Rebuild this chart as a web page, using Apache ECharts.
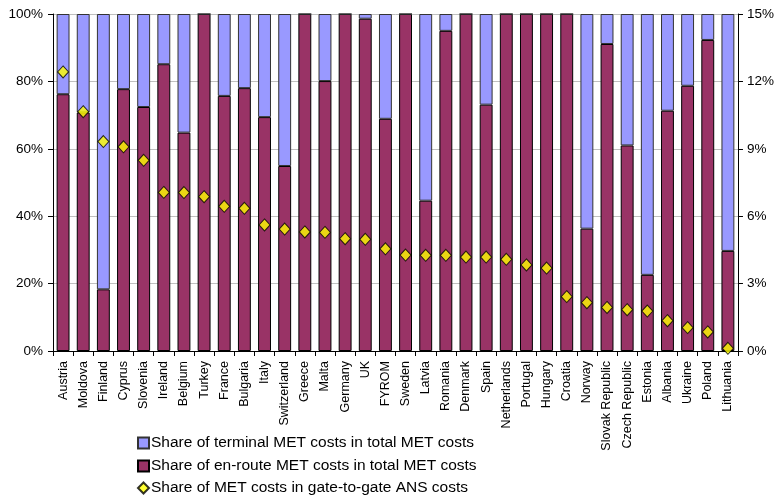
<!DOCTYPE html>
<html>
<head>
<meta charset="utf-8">
<script src="https://cdn.jsdelivr.net/npm/echarts@6/dist/echarts.min.js"></script>
<style>
  html, body { margin: 0; padding: 0; background: #ffffff; }
  #chart { width: 777px; height: 497px; }
</style>
</head>
<body>
<div id="chart"></div>
<script>
// Countries, ordered by MET share of gate-to-gate ANS costs
const countries = ['Austria', 'Moldova', 'Finland', 'Cyprus', 'Slovenia', 'Ireland', 'Belgium', 'Turkey',
  'France', 'Bulgaria', 'Italy', 'Switzerland', 'Greece', 'Malta', 'Germany', 'UK', 'FYROM', 'Sweden',
  'Latvia', 'Romania', 'Denmark', 'Spain', 'Netherlands', 'Portugal', 'Hungary', 'Croatia', 'Norway',
  'Slovak Republic', 'Czech Republic', 'Estonia', 'Albania', 'Ukraine', 'Poland', 'Lithuania'];

// Share of terminal MET costs in total MET costs (%)
const terminalShare = [23.8, 29.2, 81.7, 22.3, 27.6, 14.9, 35.2, 0, 24.3, 22.0, 30.6, 45.1, 0, 19.9, 0, 1.4,
  31.1, 0, 55.4, 5.0, 0, 26.9, 0, 0, 0, 0, 63.7, 8.9, 39.0, 77.4, 28.7, 21.3, 7.7, 70.3];

// Share of en-route MET costs in total MET costs (%)
const enrouteShare = [76.2, 70.8, 18.3, 77.7, 72.4, 85.1, 64.8, 100, 75.7, 78.0, 69.4, 54.9, 100, 80.1, 100, 98.6,
  68.9, 100, 44.6, 95.0, 100, 73.1, 100, 100, 100, 100, 36.3, 91.1, 61.0, 22.6, 71.3, 78.7, 92.3, 29.7];

// Share of MET costs in gate-to-gate ANS costs (%)
const metShare = [12.42, 10.65, 9.32, 9.09, 8.49, 7.06, 7.05, 6.87, 6.44, 6.35, 5.61, 5.43, 5.30, 5.28, 5.00, 4.97,
  4.55, 4.27, 4.26, 4.26, 4.18, 4.18, 4.08, 3.83, 3.69, 2.42, 2.15, 1.94, 1.84, 1.78, 1.35, 1.04, 0.85, 0.12];

const leftTicks = { min: 0, max: 100, interval: 20 };
const rightTicks = { min: 0, max: 15, interval: 3 };

const names = [
  'Share of terminal MET costs in total MET costs',
  'Share of en-route MET costs in total MET costs',
  'Share of MET costs in gate-to-gate ANS costs'
];

const font = 'Arial, "Liberation Sans", sans-serif';
const chart = echarts.init(document.getElementById('chart'), null, { renderer: 'canvas' });

const legendBase = {
  orient: 'vertical',
  left: 137,
  padding: 0,
  itemWidth: 11,
  itemHeight: 11,
  selectedMode: false,
  textStyle: { fontFamily: font, fontSize: 15.5, color: '#000', padding: [0, 0, 0, -3] }
};

chart.setOption({
  animation: false,
  backgroundColor: '#ffffff',
  grid: { left: 53, right: 37, top: 14, bottom: 146, containLabel: false },
  legend: [
    Object.assign({}, legendBase, { top: 435, data: [{ name: names[0], icon: 'rect' }] }),
    Object.assign({}, legendBase, { top: 458, data: [{ name: names[1], icon: 'rect' }] }),
    Object.assign({}, legendBase, { top: 480, data: [{ name: names[2], icon: 'diamond' }] })
  ],
  xAxis: {
    type: 'category',
    data: countries,
    axisLine: { lineStyle: { color: '#000', width: 1 } },
    axisTick: { show: true, length: 5, lineStyle: { color: '#000' } },
    axisLabel: { rotate: 90, fontFamily: font, fontSize: 12.5, color: '#000', margin: 10, interval: 0 },
    splitLine: { show: false }
  },
  yAxis: [
    {
      type: 'value',
      min: leftTicks.min, max: leftTicks.max, interval: leftTicks.interval,
      axisLine: { show: true, lineStyle: { color: '#000' } },
      axisTick: { show: true, length: 5, lineStyle: { color: '#000' } },
      axisLabel: { formatter: '{value}%', fontFamily: font, fontSize: 13.5, color: '#000', margin: 10 },
      splitLine: { show: true, lineStyle: { color: '#c0c0c0', width: 1 } }
    },
    {
      type: 'value',
      position: 'right',
      min: rightTicks.min, max: rightTicks.max, interval: rightTicks.interval,
      axisLine: { show: true, lineStyle: { color: '#000' } },
      axisTick: { show: true, length: 5, lineStyle: { color: '#000' } },
      axisLabel: { formatter: '{value}%', fontFamily: font, fontSize: 13.5, color: '#000', margin: 9 },
      splitLine: { show: false }
    }
  ],
  series: [
    {
      name: names[1],
      type: 'bar',
      stack: 'met',
      data: enrouteShare,
      barCategoryGap: '36%',
      itemStyle: { color: '#993366', borderColor: '#000', borderWidth: 1 }
    },
    {
      name: names[0],
      type: 'bar',
      stack: 'met',
      data: terminalShare,
      itemStyle: { color: '#9999ff', borderColor: '#333', borderWidth: 1 }
    },
    {
      name: names[2],
      type: 'scatter',
      yAxisIndex: 1,
      data: metShare,
      symbol: 'diamond',
      symbolSize: [11, 12],
      z: 5,
      itemStyle: { color: '#ffff00', borderColor: '#000', borderWidth: 1 }
    }
  ]
});
</script>
</body>
</html>
